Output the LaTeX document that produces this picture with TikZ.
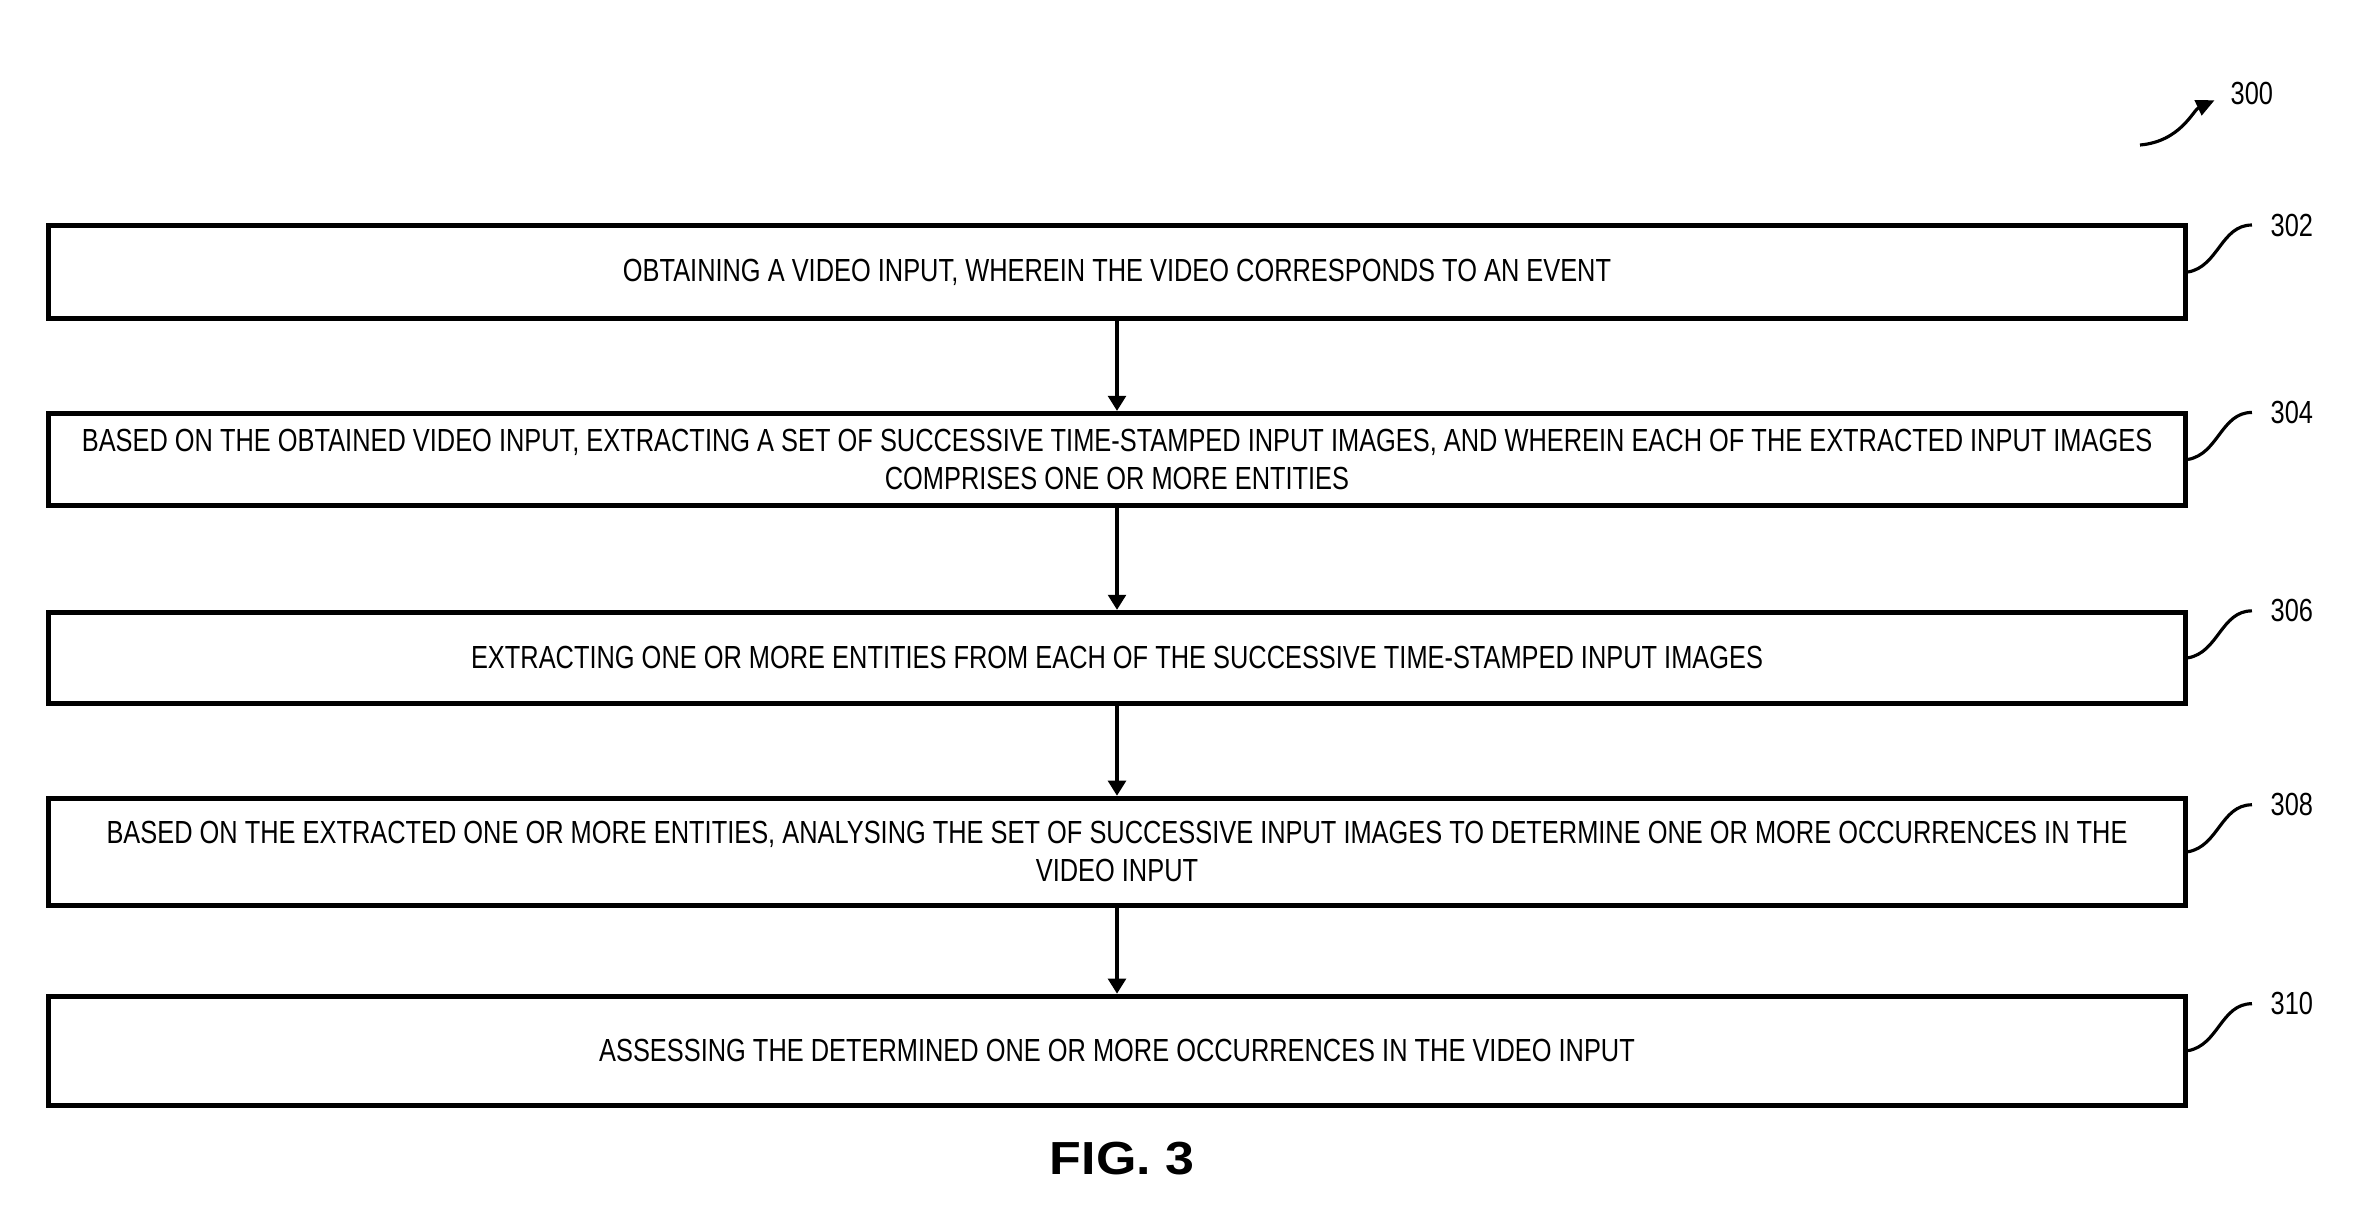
\documentclass[tikz,border=0pt]{standalone}
\usepackage{fontspec}
\setmainfont{Liberation Sans}[FakeStretch=0.794]
\newfontfamily\figfont{Liberation Sans}[FakeStretch=1.12]
\usetikzlibrary{positioning, arrows.meta}

\begin{document}
\begin{tikzpicture}[
            stepbox/.style={draw, line width=1.4pt, minimum width=21.37cm, inner sep=0pt, align=center, font=\fontsize{9.1pt}{10.8pt}\selectfont},
            arrow/.style={-{Triangle[length=4.3pt, width=5pt]}, line width=1.4pt},
            refnum/.style={inner sep=0pt, font=\fontsize{9.1pt}{10.8pt}\selectfont},
            callout/.style={line width=0.9pt, out=10, in=180}
        ]
            \useasboundingbox (0,0) rectangle (23.72,-12.23);

            \node [stepbox, minimum height=0.93cm] (obtain) at (11.17,-2.72) {OBTAINING A VIDEO INPUT, WHEREIN THE VIDEO CORRESPONDS TO AN EVENT};
            \node [stepbox, minimum height=0.92cm, below=0.90cm of obtain] (extract) {BASED ON THE OBTAINED VIDEO INPUT, EXTRACTING A SET OF SUCCESSIVE TIME-STAMPED INPUT IMAGES, AND WHEREIN EACH OF THE EXTRACTED INPUT IMAGES\\COMPRISES ONE OR MORE ENTITIES};
            \node [stepbox, minimum height=0.91cm, below=1.02cm of extract] (entities) {EXTRACTING ONE OR MORE ENTITIES FROM EACH OF THE SUCCESSIVE TIME-STAMPED INPUT IMAGES};
            \node [stepbox, minimum height=1.07cm, below=0.90cm of entities] (analyse) {BASED ON THE EXTRACTED ONE OR MORE ENTITIES, ANALYSING THE SET OF SUCCESSIVE INPUT IMAGES TO DETERMINE ONE OR MORE OCCURRENCES IN THE\\VIDEO INPUT};
            \node [stepbox, minimum height=1.09cm, below=0.86cm of analyse] (assess) {ASSESSING THE DETERMINED ONE OR MORE OCCURRENCES IN THE VIDEO INPUT};

            \draw [arrow] (obtain) -- (extract);
            \draw [arrow] (extract) -- (entities);
            \draw [arrow] (entities) -- (analyse);
            \draw [arrow] (analyse) -- (assess);

            % reference numerals
            \coordinate [above right=0.47cm and 0.64cm of obtain.east] (c302);
            \coordinate [above right=0.47cm and 0.64cm of extract.east] (c304);
            \coordinate [above right=0.47cm and 0.64cm of entities.east] (c306);
            \coordinate [above right=0.47cm and 0.64cm of analyse.east] (c308);
            \coordinate [above right=0.47cm and 0.64cm of assess.east] (c310);
            \node [refnum, right=0.18cm of c302] (l302) {302};
            \node [refnum, right=0.18cm of c304] (l304) {304};
            \node [refnum, right=0.18cm of c306] (l306) {306};
            \node [refnum, right=0.18cm of c308] (l308) {308};
            \node [refnum, right=0.18cm of c310] (l310) {310};
            \draw [callout] (obtain.east) to (c302);
            \draw [callout] (extract.east) to (c304);
            \draw [callout] (entities.east) to (c306);
            \draw [callout] (analyse.east) to (c308);
            \draw [callout] (assess.east) to (c310);

            \node [refnum, anchor=west] (l300) at (22.30,-0.93) {300};
            \coordinate (s300) at (21.40,-1.45);
            \draw [-{Triangle[length=5.2pt, width=4.6pt]}, line width=0.9pt, shorten >=0.17cm] (s300) to [out=5, in=205] (l300.west);

            \node [font=\figfont\bfseries\fontsize{13.2pt}{15pt}\selectfont, anchor=base, inner sep=0pt] (fig) at (11.22,-11.74) {FIG. 3};
        \end{tikzpicture}
\end{document}
